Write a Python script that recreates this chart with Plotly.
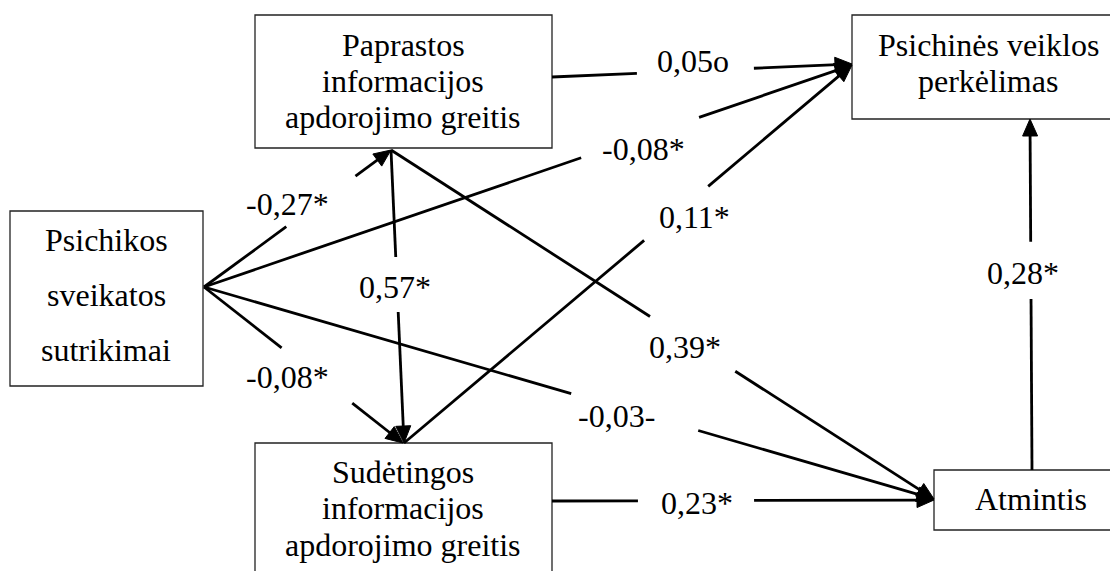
import plotly.graph_objects as go
import numpy as np

# ---------------- data ----------------
node_ids = ["psi", "pap", "sud", "per", "atm"]
node_lines = [
    ["Psichikos", "sveikatos", "sutrikimai"],
    ["Paprastos", "informacijos", "apdorojimo greitis"],
    ["Sudėtingos", "informacijos", "apdorojimo greitis"],
    ["Psichinės veiklos", "perkėlimas"],
    ["Atmintis"],
]
edge_source = ["psi", "psi", "psi", "psi", "pap", "pap", "pap", "sud", "sud", "atm"]
edge_target = ["pap", "sud", "per", "atm", "sud", "per", "atm", "per", "atm", "per"]
edge_coef = ["-0,27*", "-0,08*", "-0,08*", "-0,03-", "0,57*", "0,05o", "0,39*", "0,11*", "0,23*", "0,28*"]

# ---------------- layout geometry (pixels) ----------------
W, H = 1118, 571
OFF = 8  # page body margin compensation
box_geom = {
    "psi": (10, 211, 203, 386),
    "pap": (255, 15, 552, 148),
    "sud": (255, 443, 552, 590),
    "per": (852, 15, 1140, 119),
    "atm": (934, 470, 1140, 530),
}
text_x = {"psi": 106, "pap": 403, "sud": 403, "per": 988, "atm": 1031}
text_y = {
    "psi": [240, 295, 350],
    "pap": [45, 81, 117],
    "sud": [472, 508, 545],
    "per": [45, 81],
    "atm": [499],
}
# start point, end point, gap (t0, t1 along the segment), label centre
edge_geom = [
    ((204, 287), (391, 150), (0.44, 0.81), (287, 204)),
    ((204, 287), (403, 443), (0.39, 0.745), (287, 377)),
    ((204, 287), (852, 65), (0.582, 0.764), (643, 149)),
    ((204, 287), (934, 499), (0.503, 0.677), (616, 416)),
    ((391, 150), (404, 443), (0.365, 0.553), (395, 287)),
    ((552, 77), (852, 64), (0.283, 0.673), (693, 61)),
    ((391, 150), (934, 499), (0.477, 0.634), (685, 347)),
    ((404, 443), (852, 65), (0.536, 0.679), (694, 217)),
    ((552, 501), (934, 500), (0.225, 0.529), (697, 503)),
    ((1032, 470), (1030, 119), (0.487, 0.65), (1023, 273)),
]

FONT = "Liberation Serif, Times New Roman, serif"
FS = 32
LW = 2.8
HEAD_L, HEAD_W = 17, 7.5

shapes = []
annotations = []

# boxes
for nid in node_ids:
    x0, y0, x1, y1 = box_geom[nid]
    shapes.append(dict(type="rect", x0=x0, y0=y0, x1=x1, y1=y1,
                       line=dict(color="#222222", width=1.3), fillcolor="white", layer="below"))

# node texts
for nid, lines in zip(node_ids, node_lines):
    for ln, yy in zip(lines, text_y[nid]):
        annotations.append(dict(x=text_x[nid], y=yy, text=ln, showarrow=False,
                                xanchor="center", yanchor="middle",
                                font=dict(family=FONT, size=FS, color="black")))

# edges
for (src, tgt, coef, geom) in zip(edge_source, edge_target, edge_coef, edge_geom):
    (sx, sy), (ex, ey), (t0, t1), (lx, ly) = geom
    p0 = np.array([sx, sy], float)
    p1 = np.array([ex, ey], float)
    d = p1 - p0
    L = np.linalg.norm(d)
    u = d / L
    nvec = np.array([-u[1], u[0]])
    tip = p1
    base = tip - HEAD_L * u
    ga = p0 + t0 * d
    gb = p0 + t1 * d
    shapes.append(dict(type="line", x0=p0[0], y0=p0[1], x1=ga[0], y1=ga[1],
                       line=dict(color="black", width=LW)))
    shapes.append(dict(type="line", x0=gb[0], y0=gb[1], x1=base[0] + 2 * u[0], y1=base[1] + 2 * u[1],
                       line=dict(color="black", width=LW)))
    a = base + HEAD_W * nvec
    b = base - HEAD_W * nvec
    path = f"M {tip[0]:.2f} {tip[1]:.2f} L {a[0]:.2f} {a[1]:.2f} L {b[0]:.2f} {b[1]:.2f} Z"
    shapes.append(dict(type="path", path=path, fillcolor="black", line=dict(color="black", width=1)))
    annotations.append(dict(x=lx, y=ly, text=coef, showarrow=False,
                            xanchor="center", yanchor="middle",
                            font=dict(family=FONT, size=FS, color="black")))

fig = go.Figure()
fig.add_trace(go.Scatter(x=[OFF, W], y=[OFF, H], mode="markers", marker=dict(opacity=0),
                         hoverinfo="skip", showlegend=False))
fig.update_layout(
    width=W - OFF, height=H - OFF,
    margin=dict(l=0, r=0, t=0, b=0),
    paper_bgcolor="white", plot_bgcolor="white",
    xaxis=dict(range=[OFF, W], visible=False, fixedrange=True),
    yaxis=dict(range=[H, OFF], visible=False, fixedrange=True),
    shapes=shapes, annotations=annotations, showlegend=False,
)
fig.write_html("out.html", config={"displayModeBar": False})
